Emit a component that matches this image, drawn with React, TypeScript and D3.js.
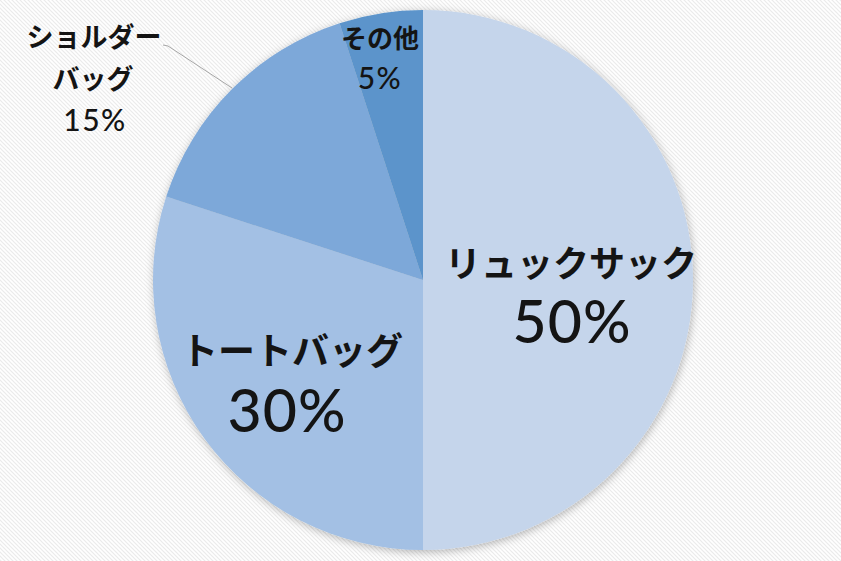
import React from "react";
import * as d3 from "d3";

const categories = ["リュックサック", "トートバッグ", "ショルダーバッグ", "その他"];
const values = [50, 30, 15, 5];
const colors = ["#c5d5eb", "#a3c0e4", "#7da8d9", "#5b94cb"];

const W = 841;
const H = 561;
const cx = 423;
const cy = 280;
const R = 270;

export default function App() {
  const pie = d3.pie<number>().sort(null).value((d) => d)(values);
  const arc = d3.arc<d3.PieArcDatum<number>>().innerRadius(0).outerRadius(R);
  const labelFont = "'Noto Sans CJK JP', sans-serif";
  const numFont = "Lato, 'Noto Sans', sans-serif";
  const textColor = "#141414";

  return (
    <svg
      width={W}
      height={H}
      style={{ position: "absolute", left: 0, top: 0 }}
      viewBox={`0 0 ${W} ${H}`}
    >
      <defs>
        <pattern id="stripes" patternUnits="userSpaceOnUse" width="4" height="4">
          <rect width="4" height="4" fill="#ffffff" />
          <path d="M-1,-1 L5,5" stroke="#ebebeb" strokeWidth="1.2" />
          <path d="M3,-1 L5,1" stroke="#ebebeb" strokeWidth="1.2" />
          <path d="M-1,3 L1,5" stroke="#ebebeb" strokeWidth="1.2" />
        </pattern>
        <filter id="shadow" x="-20%" y="-20%" width="140%" height="140%">
          <feDropShadow dx="1" dy="2" stdDeviation="4" floodColor="#000" floodOpacity="0.28" />
        </filter>
      </defs>
      <rect width={W} height={H} fill="url(#stripes)" />
      <g transform={`translate(${cx},${cy})`} filter="url(#shadow)">
        {pie.map((p, i) => (
          <path key={categories[i]} d={arc(p) || ""} fill={colors[i]} />
        ))}
      </g>
      {/* leader line for shoulder bag */}
      <polyline
        points="163,45 168,46 232,88"
        fill="none"
        stroke="#a6a6a6"
        strokeWidth="1"
      />
      <g fill={textColor} textAnchor="middle">
        <text x={571} y={277} fontFamily={labelFont} fontWeight={700} fontSize={36}>
          {categories[0]}
        </text>
        <text x={572} y={343} fontFamily={numFont} fontWeight={500} fontSize={59} letterSpacing={1}>
          {values[0]}%
        </text>
        <text x={292} y={365} fontFamily={labelFont} fontWeight={700} fontSize={37}>
          {categories[1]}
        </text>
        <text x={287} y={432} fontFamily={numFont} fontWeight={500} fontSize={59} letterSpacing={1}>
          {values[1]}%
        </text>
        <text x={94} y={47} fontFamily={labelFont} fontWeight={700} fontSize={27}>
          ショルダー
        </text>
        <text x={93} y={89} fontFamily={labelFont} fontWeight={700} fontSize={27}>
          バッグ
        </text>
        <text x={95} y={131} fontFamily={numFont} fontWeight={500} fontSize={30} letterSpacing={1.5}>
          {values[2]}%
        </text>
        <text x={380} y={48} fontFamily={labelFont} fontWeight={700} fontSize={26}>
          {categories[3]}
        </text>
        <text x={380} y={89} fontFamily={numFont} fontWeight={500} fontSize={30} letterSpacing={1.5}>
          {values[3]}%
        </text>
      </g>
    </svg>
  );
}
